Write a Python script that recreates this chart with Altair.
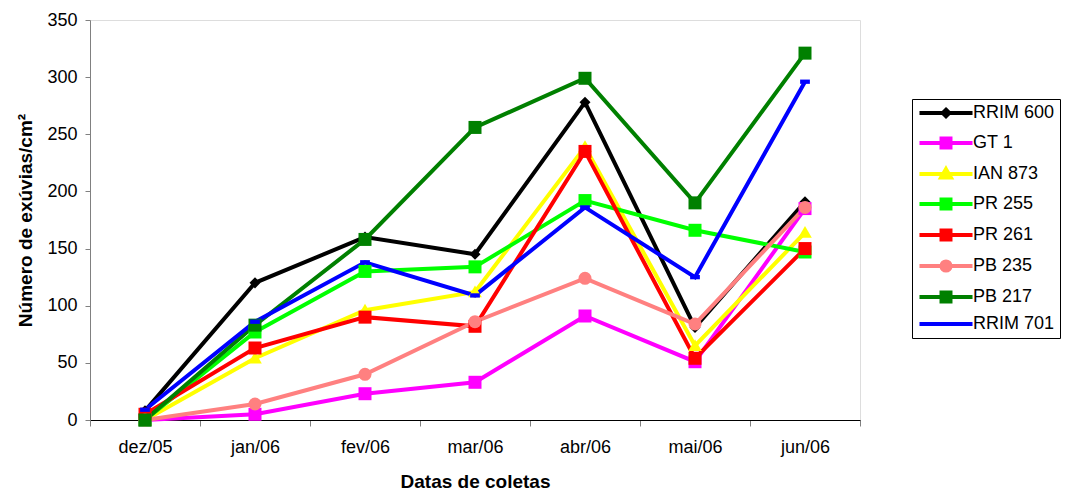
import altair as alt
import pandas as pd

dates = ["dez/05", "jan/06", "fev/06", "mar/06", "abr/06", "mai/06", "jun/06"]
series = ["RRIM 600", "GT 1", "IAN 873", "PR 255", "PR 261", "PB 235", "PB 217", "RRIM 701"]

rrim600 = [8, 120, 160, 145, 278, 81, 191]
gt1 = [0, 5, 23, 33, 91, 51, 185]
ian873 = [0, 54, 96, 112, 239, 65, 164]
pr255 = [0, 77, 130, 134, 192, 166, 147]
pr261 = [5, 63, 90, 82, 235, 54, 150]
pb235 = [0, 14, 40, 86, 124, 84, 186]
pb217 = [0, 83, 158, 256, 299, 190, 321]
rrim701 = [9, 86, 138, 109, 186, 125, 296]

values = [rrim600, gt1, ian873, pr255, pr261, pb235, pb217, rrim701]

colors = ["#000000", "#FF00FF", "#FFFF00", "#00FF00", "#FF0000", "#FF8080", "#008000", "#0000FF"]

# marker shapes in the plot (unit = sqrt(size)/2 px)
sq = "M-1,-1H1V1H-1Z"
marker_paths = [
    "M0,-0.85L0.85,0L0,0.85L-0.85,0Z",
    sq,
    "M0,-1L1.05,0.8L-1.05,0.8Z",
    sq,
    sq,
    "circle",
    sq,
    "M-0.75,-0.33H0.75V0.33H-0.75Z",
]

# legend symbols: line segment plus marker
ln = "M-4.08,0H4.08"
lsq = "M-0.69,-0.69H0.69V0.69H-0.69Z"
legend_paths = [
    ln + "M0,-0.5L0.5,0L0,0.5L-0.5,0Z",
    ln + lsq,
    ln + "M0,-0.75L0.75,0.55L-0.75,0.55Z",
    ln + lsq,
    ln + lsq,
    ln + "M-0.7,0A0.7,0.7 0 1,0 0.7,0A0.7,0.7 0 1,0 -0.7,0Z",
    ln + lsq,
    ln,
]

rows = []
for s, vals in zip(series, values):
    for d, v in zip(dates, vals):
        rows.append({"serie": s, "data": d, "valor": v})
df = pd.DataFrame(rows)

FONT = "Liberation Sans"

x_enc = alt.X(
    "data:N",
    sort=dates,
    bandPosition=0.5,
    scale=alt.Scale(type="band", paddingInner=0, paddingOuter=0),
    axis=alt.Axis(
        title="Datas de coletas",
        tickBand="extent",
        labelAngle=0,
        labelFontSize=18,
        labelFont=FONT,
        labelColor="#000000",
        labelPadding=12,
        tickSize=6,
        tickColor="#808080",
        domainColor="#000000",
        titleFont=FONT,
        titleFontSize=19,
        titleFontWeight="bold",
        titleColor="#000000",
        titleBaseline="alphabetic",
        titleY=67,
        grid=False,
    ),
)
y_enc = alt.Y(
    "valor:Q",
    scale=alt.Scale(domain=[0, 350], nice=False, zero=True),
    axis=alt.Axis(
        title="Número de exúvias/cm²",
        values=[0, 50, 100, 150, 200, 250, 300, 350],
        labelFontSize=18,
        labelFont=FONT,
        labelColor="#000000",
        labelPadding=8,
        tickSize=5,
        tickColor="#808080",
        domainColor="#808080",
        titleFont=FONT,
        titleFontSize=19,
        titleFontWeight="bold",
        titleColor="#000000",
        titleBaseline="alphabetic",
        titleX=-59,
        grid=False,
    ),
)

color_scale = alt.Scale(domain=series, range=colors)

lines = alt.Chart(df).mark_line(strokeWidth=4).encode(
    x=x_enc,
    y=y_enc,
    color=alt.Color("serie:N", scale=color_scale, legend=None, sort=series),
)

points = alt.Chart(df).mark_point(filled=True, size=169, opacity=1).encode(
    x=x_enc,
    y=y_enc,
    color=alt.Color("serie:N", scale=color_scale, legend=None, sort=series),
    shape=alt.Shape("serie:N", scale=alt.Scale(domain=series, range=marker_paths), legend=None),
)

legend = alt.Legend(
    title=None,
    orient="none",
    legendX=822,
    legendY=79,
    strokeColor="#000000",
    fillColor="#FFFFFF",
    padding=5,
    labelFont=FONT,
    labelFontSize=18,
    labelColor="#000000",
    symbolSize=169,
    symbolStrokeWidth=4,
    symbolOffset=20,
    labelOffset=18,
    rowPadding=5,
    symbolOpacity=1,
)

legend_layer = alt.Chart(df).transform_filter("datum.valor < 0").mark_point(filled=True, size=169).encode(
    x=x_enc,
    y=y_enc,
    shape=alt.Shape("serie:N", scale=alt.Scale(domain=series, range=legend_paths), legend=legend, sort=series),
    fill=alt.Fill("serie:N", scale=alt.Scale(domain=series, range=colors), legend=legend, sort=series),
    stroke=alt.Stroke("serie:N", scale=alt.Scale(domain=series, range=colors), legend=legend, sort=series),
)

chart = alt.layer(lines, points, legend_layer).resolve_scale(
    shape="independent", fill="independent", stroke="independent"
).resolve_legend(
    shape="independent", fill="independent", stroke="independent"
).properties(
    width=770,
    height=400,
    autosize=alt.AutoSizeParams(type="none"),
    padding={"left": 90, "top": 20, "right": 205, "bottom": 72},
).configure_view(stroke=None).configure(background="#FFFFFF")

chart.save("out.html", embed_options={"renderer": "svg", "actions": False})
